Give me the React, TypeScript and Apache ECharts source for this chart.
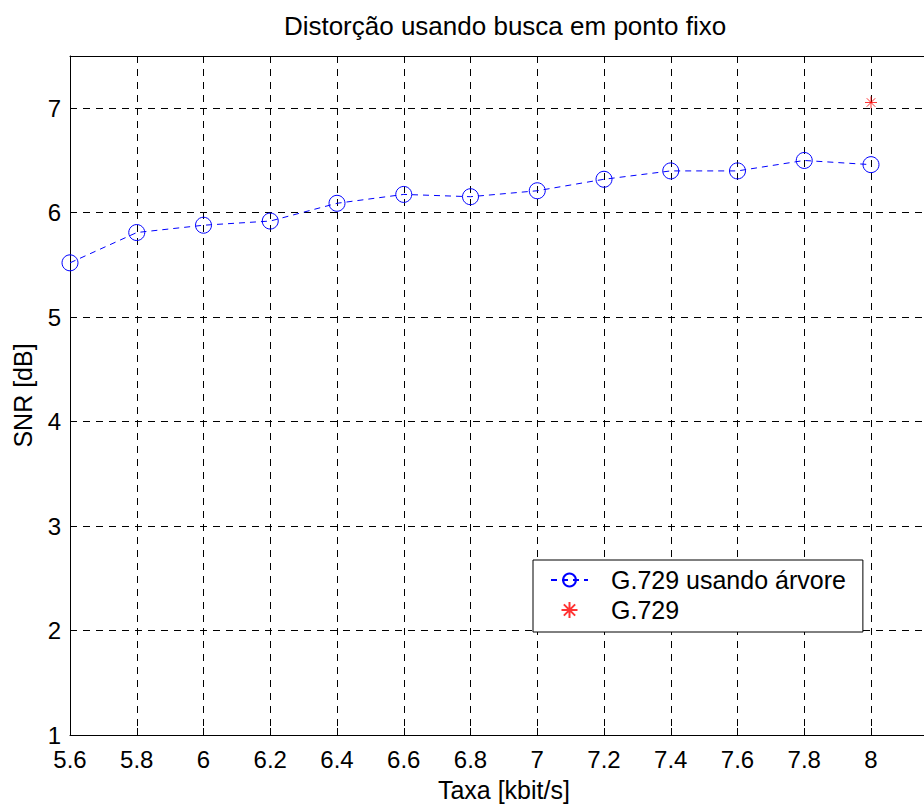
import React, { useEffect, useRef } from "react";
import * as echarts from "echarts";

const rates = [5.6, 5.8, 6.0, 6.2, 6.4, 6.6, 6.8, 7.0, 7.2, 7.4, 7.6, 7.8, 8.0];
const snrTree = [5.52, 5.81, 5.88, 5.92, 6.09, 6.175, 6.153, 6.21, 6.32, 6.40, 6.40, 6.50, 6.46];
const g729Rate = [8.0];
const g729Snr = [7.055];

const titleText = "Distorção usando busca em ponto fixo";
const xName = "Taxa [kbit/s]";
const yName = "SNR [dB]";
const seriesNames = ["G.729 usando árvore", "G.729"];

const FONT = "'Liberation Sans', Arial, Helvetica, sans-serif";
const asterisk = "path://M6,0L6,12M0,6L12,6M1.76,1.76L10.24,10.24M1.76,10.24L10.24,1.76";

export default function App() {
  const ref = useRef<HTMLDivElement>(null);
  useEffect(() => {
    document.body.style.margin = "0";
    document.body.style.overflow = "hidden";
    document.documentElement.style.overflow = "hidden";
    const chart = echarts.init(ref.current!, null, { renderer: "svg" });
    const treeData = rates.map((r, i) => [r, snrTree[i]]);
    const g729Data = g729Rate.map((r, i) => [r, g729Snr[i]]);
    const tickStyle = { inside: true, length: 7, lineStyle: { color: "#000", width: 1 } };
    chart.setOption({
      animation: false,
      backgroundColor: "#fff",
      title: {
        text: titleText,
        left: 500,
        textAlign: "center",
        top: 8,
        textStyle: { fontFamily: FONT, fontSize: 26, fontWeight: "normal", color: "#000" },
      },
      grid: { left: 70, top: 56, width: 867.75, height: 681, containLabel: false },
      legend: {
        orient: "vertical",
        left: 533,
        top: 560,
        padding: [5, 17, 7, 17],
        itemWidth: 37,
        itemHeight: 16,
        itemGap: 0,
        backgroundColor: "#fff",
        borderColor: "#000",
        borderWidth: 1,
        borderRadius: 0,
        textStyle: { fontFamily: FONT, fontSize: 25, color: "#000", lineHeight: 30, padding: [0, 0, 0, 18] },
        data: [
          { name: seriesNames[0] },
          { name: seriesNames[1] },
        ],
      },
      xAxis: [
        {
          type: "value",
          min: 5.6,
          max: 8.2,
          interval: 0.2,
          position: "bottom",
          name: xName,
          nameLocation: "middle",
          nameGap: 42,
          nameTextStyle: { fontFamily: FONT, fontSize: 25, color: "#000" },
          axisLine: { show: true, onZero: false, lineStyle: { color: "#000", width: 1 } },
          axisTick: tickStyle,
          axisLabel: {
            fontFamily: FONT,
            fontSize: 24,
            color: "#000",
            margin: 12,
            showMaxLabel: false,
            formatter: (v: number) => (v > 8.1 ? "" : String(Math.round(v * 10) / 10)),
          },
          splitLine: { show: true, lineStyle: { color: "#000", type: [7, 6], width: 1 } },
        },
        {
          type: "value",
          min: 5.6,
          max: 8.2,
          interval: 0.2,
          position: "top",
          axisLine: { show: true, onZero: false, lineStyle: { color: "#000", width: 1 } },
          axisTick: tickStyle,
          axisLabel: { show: false },
          splitLine: { show: false },
        },
      ],
      yAxis: [
        {
          type: "value",
          min: 1,
          max: 7.5,
          interval: 1,
          position: "left",
          name: yName,
          nameLocation: "middle",
          nameGap: 35,
          nameRotate: 90,
          nameTextStyle: { fontFamily: FONT, fontSize: 25, color: "#000" },
          axisLine: { show: true, onZero: false, lineStyle: { color: "#000", width: 1 } },
          axisTick: tickStyle,
          axisLabel: {
            fontFamily: FONT,
            fontSize: 24,
            color: "#000",
            margin: 9,
            formatter: (v: number) => (Number.isInteger(Math.round(v * 1000) / 1000) ? String(Math.round(v)) : ""),
          },
          splitLine: { show: true, lineStyle: { color: "#000", type: [7, 6], width: 1 } },
        },
        {
          type: "value",
          min: 1,
          max: 7.5,
          interval: 1,
          position: "right",
          axisLine: { show: true, onZero: false, lineStyle: { color: "#000", width: 1 } },
          axisTick: tickStyle,
          axisLabel: { show: false },
          splitLine: { show: false },
        },
      ],
      series: [
        {
          name: seriesNames[0],
          type: "line",
          data: treeData,
          symbol: "circle",
          symbolSize: 16,
          showAllSymbol: true,
          lineStyle: { color: "#0000ff", width: 1, type: [6, 5] },
          itemStyle: { color: "rgba(0,0,0,0)", borderColor: "#0000ff", borderWidth: 1 },
          emphasis: { disabled: true },
          z: 3,
        },
        {
          name: seriesNames[1],
          type: "scatter",
          data: g729Data,
          symbol: asterisk,
          symbolSize: 12,
          itemStyle: { color: "rgba(0,0,0,0)", borderColor: "#ff0000", borderWidth: 1 },
          emphasis: { disabled: true },
          z: 3,
        },
      ],
    });
    return () => chart.dispose();
  }, []);
  return <div ref={ref} style={{ width: 950, height: 807 }} />;
}
